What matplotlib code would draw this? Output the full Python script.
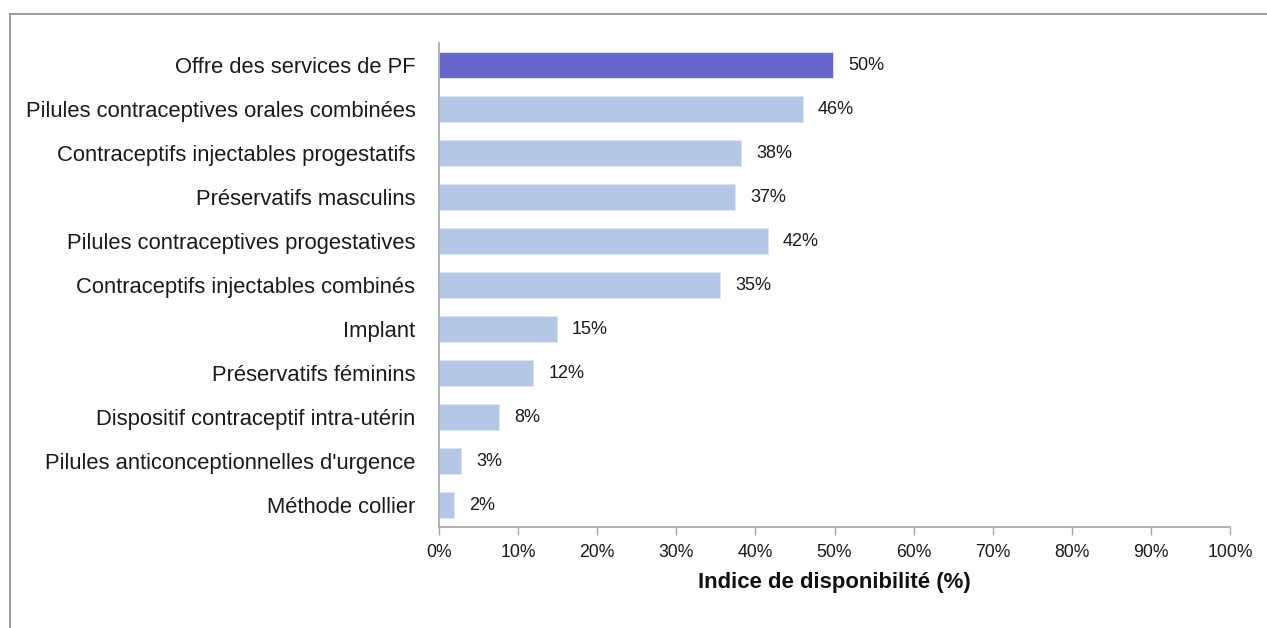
import matplotlib.pyplot as plt
from matplotlib.lines import Line2D
from matplotlib.ticker import PercentFormatter

plt.rcParams['font.family'] = ['Liberation Sans', 'DejaVu Sans']

# Data
categories = [
    "Offre des services de PF",
    "Pilules contraceptives orales combinées",
    "Contraceptifs injectables progestatifs",
    "Préservatifs masculins",
    "Pilules contraceptives progestatives",
    "Contraceptifs injectables combinés",
    "Implant",
    "Préservatifs féminins",
    "Dispositif contraceptif intra-utérin",
    "Pilules anticonceptionnelles d'urgence",
    "Méthode collier",
]
values = [49.8, 46.0, 38.2, 37.4, 41.6, 35.5, 14.9, 11.9, 7.6, 2.8, 1.9]
labels = ["50%", "46%", "38%", "37%", "42%", "35%", "15%", "12%", "8%", "3%", "2%"]
x_ticks = list(range(0, 101, 10))

colors = ["#6666CC"] + ["#B4C7E7"] * (len(values) - 1)

fig = plt.figure(figsize=(12.67, 6.28), dpi=100)
ax = fig.add_axes([0.3465, 0.1608, 0.6243, 0.7707])

y = range(len(categories))
ax.barh(y, values, height=0.6, color=colors, edgecolor="#DCE6F4", linewidth=0.6)
ax.set_ylim(len(categories) - 0.5, -0.5)
ax.set_xlim(0, 100)

for yi, v, lab in zip(y, values, labels):
    ax.text(v + 1.9, yi, lab, va="center", ha="left", fontsize=13, color="#1a1a1a")

ax.set_yticks(list(y))
ax.set_yticklabels(categories, fontsize=15.8, color="#1a1a1a")
ax.tick_params(axis="y", length=0, pad=17)

ax.set_xticks(x_ticks)
ax.xaxis.set_major_formatter(PercentFormatter(decimals=0))
ax.tick_params(axis="x", length=6, width=1, color="#A6A6A6", labelsize=12.7,
               labelcolor="#1a1a1a", pad=6)
ax.set_xlabel("Indice de disponibilité (%)", fontsize=15.9, fontweight="bold",
              labelpad=8, color="#111111")

for s in ["top", "right"]:
    ax.spines[s].set_visible(False)
ax.spines["left"].set_color("#A6A6A6")
ax.spines["bottom"].set_color("#A6A6A6")
ax.spines["left"].set_linewidth(1.2)
ax.spines["bottom"].set_linewidth(1.2)

# outer frame (top and left edges visible)
fig.add_artist(Line2D([9.5 / 1267, 1.0], [1 - 13.5 / 628] * 2, color="#8C8C8C", lw=1.2))
fig.add_artist(Line2D([9.5 / 1267] * 2, [0.0, 1 - 13.5 / 628], color="#8C8C8C", lw=1.2))

fig.savefig("out.png", dpi=100)
